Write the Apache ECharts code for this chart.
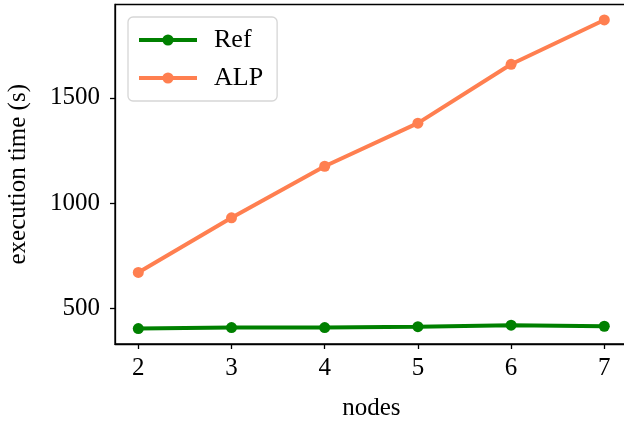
<!DOCTYPE html>
<html>
<head>
<meta charset="utf-8">
<script src="https://cdn.jsdelivr.net/npm/echarts@6/dist/echarts.min.js"></script>
<style>
  html, body { margin: 0; padding: 0; background: #fff; }
  #chart { width: 624px; height: 424px; }
</style>
</head>
<body>
<div id="chart"></div>
<script>
// Execution time per node count
const nodes = [2, 3, 4, 5, 6, 7];
const refTimes = [403, 408, 408, 412, 419, 414];
const alpTimes = [670, 930, 1175, 1380, 1660, 1871];
const xTicks = [2, 3, 4, 5, 6, 7];
const yTicks = [500, 1000, 1500];

const FONT = '"Liberation Serif", "DejaVu Serif", serif';

// 5% padding around the data range on both axes
const allY = refTimes.concat(alpTimes);
const yLo = Math.min(...allY), yHi = Math.max(...allY);
const yPad = (yHi - yLo) * 0.05;
const xLo = Math.min(...nodes), xHi = Math.max(...nodes);
const xPad = (xHi - xLo) * 0.05;

const chart = echarts.init(document.getElementById('chart'), null, { renderer: 'canvas' });

const axisCommon = {
  axisLine: { show: true, onZero: false, lineStyle: { color: '#000', width: 1.3 } },
  axisTick: { show: true, inside: false, length: 5, lineStyle: { color: '#000', width: 1.3 } },
  splitLine: { show: false },
  nameTextStyle: { fontFamily: FONT, fontSize: 25, color: '#000' }
};

chart.setOption({
  animation: false,
  grid: {
    left: 115, top: 4.5, width: 512.6, height: 339.5,
    outerBoundsMode: 'none', containLabel: false,
    show: true, borderColor: '#000', borderWidth: 1.3, backgroundColor: 'transparent'
  },
  legend: {
    left: 128, top: 17,
    orient: 'vertical',
    itemWidth: 58, itemHeight: 14,
    itemGap: 12,
    padding: [10, 14, 10, 9],
    borderColor: '#d6d6d6', borderWidth: 1.3, borderRadius: 5,
    backgroundColor: 'rgba(255,255,255,0.8)',
    lineStyle: { width: 4 },
    textStyle: { fontFamily: FONT, fontSize: 26, color: '#000', padding: [0, 0, 0, 12] },
    data: ['Ref', 'ALP']
  },
  xAxis: Object.assign({}, axisCommon, {
    type: 'value',
    min: xLo - xPad, max: xHi + xPad,
    name: 'nodes', nameLocation: 'middle', nameGap: 52,
    axisTick: Object.assign({}, axisCommon.axisTick, { customValues: xTicks }),
    axisLabel: {
      customValues: xTicks, margin: 12,
      fontFamily: FONT, fontSize: 25, color: '#000',
      formatter: v => String(v)
    }
  }),
  yAxis: Object.assign({}, axisCommon, {
    type: 'value',
    min: yLo - yPad, max: yHi + yPad,
    name: 'execution time (s)', nameLocation: 'middle', nameGap: 84,
    axisTick: Object.assign({}, axisCommon.axisTick, { customValues: yTicks }),
    axisLabel: {
      customValues: yTicks, margin: 15,
      fontFamily: FONT, fontSize: 25, color: '#000',
      formatter: v => String(v)
    }
  }),
  series: [
    {
      name: 'Ref', type: 'line',
      data: nodes.map((n, i) => [n, refTimes[i]]),
      color: '#008000',
      lineStyle: { width: 4 },
      symbol: 'circle', symbolSize: 11, showSymbol: true
    },
    {
      name: 'ALP', type: 'line',
      data: nodes.map((n, i) => [n, alpTimes[i]]),
      color: '#ff7f50',
      lineStyle: { width: 4 },
      symbol: 'circle', symbolSize: 11, showSymbol: true
    }
  ]
});
</script>
</body>
</html>
